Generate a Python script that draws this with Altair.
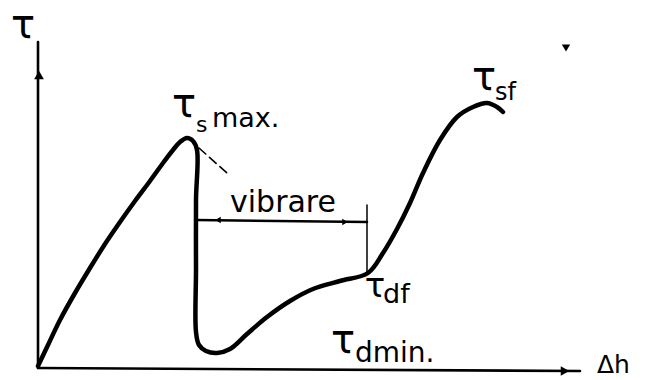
import altair as alt
import pandas as pd

# Shear stress tau against displacement dh: peak, drop during vibration, recovery.
curve_dh = [0, 10, 22, 37, 52, 67, 82, 97, 112, 125, 135, 142, 149, 155, 159,
            158, 158, 158, 161, 168, 179, 192, 209, 229, 252, 275, 302, 330,
            345, 359, 372, 385, 402, 419, 435, 449, 459, 465]
curve_tau = [2, 23, 48, 75, 100, 124, 146, 167, 187, 205, 218, 226, 230, 227, 218,
             168, 98, 36, 23, 17, 15, 19, 34, 51, 67, 79, 87, 95,
             115, 139, 165, 195, 228, 251, 261, 265, 261, 256]

# Axes (start / end points)
axis_x0 = [0, 0]
axis_y0 = [0, 0]
axis_x1 = [0, 542]
axis_y1 = [326, -3]

# Vibration interval: dimension line and its end tick
vib_line = dict(x=158, y=148, x2=329, y2=146)
vib_tick = dict(x=329, y=163, x2=329, y2=95)
leader = dict(x=161, y=220, x2=189, y2=195)

# Arrow heads
head_dh = [1, 527, 180, 307]
head_tau = [293, -3, 148, 146]
head_shape = ["triangle-up", "triangle-right", "triangle-left", "triangle-right"]
head_size = [95, 95, 40, 40]

# Labels
c_text = ["τ", "τ", "vibrare", "τ", "τ", "τ"]
c_dh = [-15, 146, 245, 337, 305, 446]
c_tau = [330, 251, 156, 71, 15, 278]
c_size = [40, 40, 30, 34, 40, 40]

l_text = ["s", "max.", "df", "dmin.", "sf", "Δh"]
l_dh = [158, 174, 345, 317, 457, 559]
l_tau = [236, 241, 65, 6, 268, -5]
l_size = [22, 27, 27, 28, 24, 25]

W, H = 647, 380
xs = alt.Scale(domain=[-38, 609], nice=False, zero=False)
ys = alt.Scale(domain=[-12, 368], nice=False, zero=False)
FONT = "DejaVu Sans"

curve_df = pd.DataFrame({"dh": curve_dh, "tau": curve_tau, "i": range(len(curve_dh))})
curve = alt.Chart(curve_df).mark_line(
    interpolate="catmull-rom", color="black", strokeWidth=4.5,
    strokeCap="round", strokeJoin="round"
).encode(
    x=alt.X("dh:Q", scale=xs, axis=None),
    y=alt.Y("tau:Q", scale=ys, axis=None),
    order="i:O",
)

axes_df = pd.DataFrame({"x": axis_x0, "y": axis_y0, "x2": axis_x1, "y2": axis_y1})
axes = alt.Chart(axes_df).mark_rule(color="black", strokeWidth=2.6, strokeCap="round").encode(
    x=alt.X("x:Q", scale=xs, axis=None), y=alt.Y("y:Q", scale=ys, axis=None),
    x2="x2:Q", y2="y2:Q",
)

def seg(d, width, dash=None):
    kw = dict(color="black", strokeWidth=width, strokeCap="round")
    if dash:
        kw["strokeDash"] = dash
    return alt.Chart(pd.DataFrame([d])).mark_rule(**kw).encode(
        x=alt.X("x:Q", scale=xs, axis=None), y=alt.Y("y:Q", scale=ys, axis=None),
        x2="x2:Q", y2="y2:Q",
    )

vib = seg(vib_line, 2.6)
tick = seg(vib_tick, 1.5)
lead = seg(leader, 1.6, [9, 5])

heads_df = pd.DataFrame({"dh": head_dh, "tau": head_tau, "shape": head_shape, "s": head_size})
heads = alt.Chart(heads_df).mark_point(filled=True, color="black", opacity=1).encode(
    x=alt.X("dh:Q", scale=xs, axis=None), y=alt.Y("tau:Q", scale=ys, axis=None),
    shape=alt.Shape("shape:N", scale=None),
    size=alt.Size("s:Q", scale=None),
)

dot = alt.Chart(pd.DataFrame({"dh": [528], "tau": [320]})).mark_point(
    filled=True, color="black", opacity=1, shape="triangle-down", size=70
).encode(x=alt.X("dh:Q", scale=xs, axis=None), y=alt.Y("tau:Q", scale=ys, axis=None))

centered = alt.Chart(pd.DataFrame({"t": c_text, "dh": c_dh, "tau": c_tau, "fs": c_size})).mark_text(
    align="center", baseline="alphabetic", font=FONT, color="black"
).encode(
    x=alt.X("dh:Q", scale=xs, axis=None), y=alt.Y("tau:Q", scale=ys, axis=None),
    text="t:N", size=alt.Size("fs:Q", scale=None),
)

lefted = alt.Chart(pd.DataFrame({"t": l_text, "dh": l_dh, "tau": l_tau, "fs": l_size})).mark_text(
    align="left", baseline="alphabetic", font=FONT, color="black"
).encode(
    x=alt.X("dh:Q", scale=xs, axis=None), y=alt.Y("tau:Q", scale=ys, axis=None),
    text="t:N", size=alt.Size("fs:Q", scale=None),
)

chart = alt.layer(axes, curve, vib, tick, lead, heads, dot, centered, lefted).properties(
    width=W, height=H, padding=0, autosize=alt.AutoSizeParams(type="none"),
    background="white",
).configure_view(stroke=None)

chart.save("out.html", embed_options={"renderer": "svg", "actions": False})
